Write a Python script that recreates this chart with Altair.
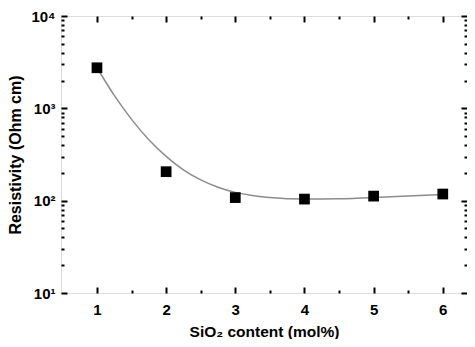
import altair as alt
import pandas as pd

# measured data points
sio2 = [1, 2, 3, 4, 5, 6]
resistivity = [2750, 206, 108, 104, 112, 118]

# fitted curve
curve_x = [1, 1.25, 1.5, 1.75, 2, 2.25, 2.5, 2.75, 3, 3.25, 3.5, 4, 4.5, 5, 5.5, 6]
curve_y = [2754, 1380, 759, 457, 302, 216, 168, 140, 123, 114, 108, 104, 105, 108, 112, 117]

x_major = [1, 2, 3, 4, 5, 6]
x_minor = [1.5, 2.5, 3.5, 4.5, 5.5]
y_major = [10, 100, 1000, 10000]
y_minor = [m * d for d in (10, 100, 1000) for m in range(2, 10)]

pts = pd.DataFrame({"x": sio2, "y": resistivity})
crv = pd.DataFrame({"x": curve_x, "y": curve_y})

FONT = "Liberation Sans"
xs = alt.Scale(domain=[0.48, 6.35], nice=False, zero=False)
ys = alt.Scale(type="log", domain=[10, 10000], nice=False)

sup = {10: "10¹", 100: "10²", 1000: "10³", 10000: "10⁴"}
label_expr = " : ".join(f"datum.value == {k} ? '{v}'" for k, v in sup.items()) + " : ''"

def tick_axis(orient, values, size):
    return alt.Axis(orient=orient, values=values, tickSize=size, offset=-size,
                    labels=False, domain=False, grid=False, title=None,
                    tickColor="black", tickWidth=2)

curve = alt.Chart(crv).mark_line(color="#8c8c8c", strokeWidth=1.5, interpolate="monotone").encode(
    x=alt.X("x:Q", scale=xs, axis=alt.Axis(
        orient="bottom", values=x_major, ticks=False, domain=False, grid=False,
        title="SiO₂ content (mol%)", labelFont=FONT, labelFontSize=15, labelFontWeight="bold",
        labelColor="black", labelPadding=9, titleFont=FONT, titleFontSize=15.5,
        titleFontWeight="bold", titleColor="black", titlePadding=7)),
    y=alt.Y("y:Q", scale=ys, axis=alt.Axis(
        orient="left", values=y_major, labelExpr=label_expr, ticks=False, domain=False,
        grid=False, title="Resistivity (Ohm cm)", labelFont=FONT, labelFontSize=15,
        labelFontWeight="bold", labelColor="black", labelPadding=6, titleFont=FONT,
        titleFontSize=16, titleFontWeight="bold", titleColor="black", titlePadding=7)),
)

points = alt.Chart(pts).mark_square(color="black", size=115, opacity=1).encode(
    x=alt.X("x:Q", scale=xs, axis=tick_axis("bottom", x_major, 6)),
    y=alt.Y("y:Q", scale=ys, axis=tick_axis("left", y_major, 6)),
)

def ghost(xo, xv, xsz, yo, yv, ysz):
    return alt.Chart(pts).mark_square(opacity=0).encode(
        x=alt.X("x:Q", scale=xs, axis=tick_axis(xo, xv, xsz)),
        y=alt.Y("y:Q", scale=ys, axis=tick_axis(yo, yv, ysz)),
    )

g1 = ghost("bottom", x_minor, 3, "left", y_minor, 3)
g2 = ghost("top", x_major, 6, "right", y_major, 6)
g3 = ghost("top", x_minor, 3, "right", y_minor, 3)

chart = alt.layer(curve, points, g1, g2, g3).resolve_axis(
    x="independent", y="independent"
).properties(
    width=406, height=277,
    autosize=alt.AutoSizeParams(type="none"),
    padding={"left": 53, "top": 8, "right": 0, "bottom": 46},
).configure_view(stroke="black", strokeWidth=2).configure(background="white")

chart.save("out.html", embed_options={"renderer": "svg", "actions": False})
